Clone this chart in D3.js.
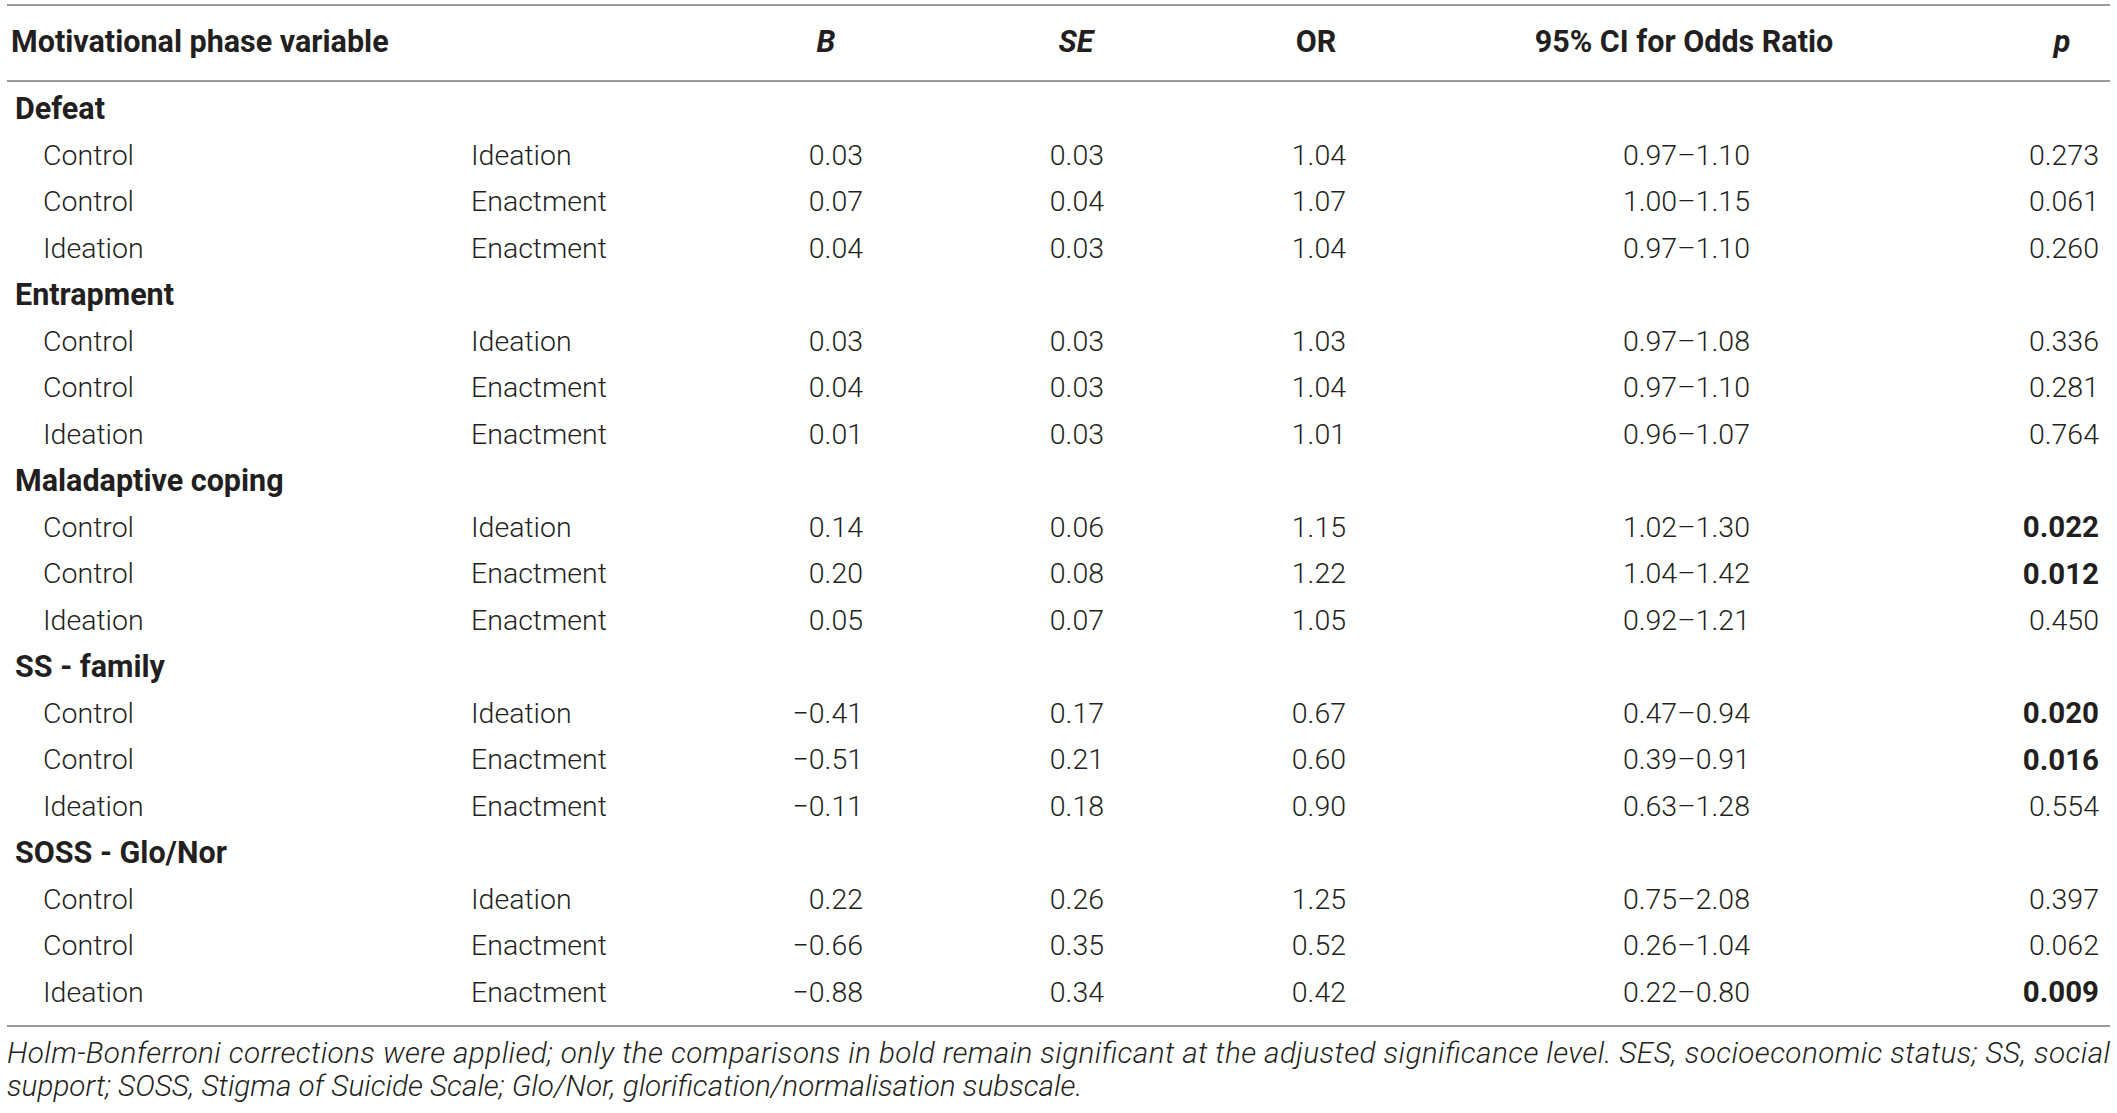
<!DOCTYPE html>
<html>
<head>
<meta charset="utf-8">
<script src="https://cdn.jsdelivr.net/npm/d3@7"></script>
<style>
  html, body { margin: 0; padding: 0; background: #fff; }
  svg { display: block; }
  text { font-family: Roboto, "Liberation Sans", sans-serif; fill: #231f20; }
</style>
</head>
<body>
<svg id="chart"></svg>
<script>
// table data
var groups = ["Defeat", "Entrapment", "Maladaptive coping", "SS - family", "SOSS - Glo/Nor"];
var fromGroup = ["Control", "Control", "Ideation"];
var toGroup = ["Ideation", "Enactment", "Enactment"];

var bValues = [
  ["0.03", "0.07", "0.04"],
  ["0.03", "0.04", "0.01"],
  ["0.14", "0.20", "0.05"],
  ["\u22120.41", "\u22120.51", "\u22120.11"],
  ["0.22", "\u22120.66", "\u22120.88"]
];
var seValues = [
  ["0.03", "0.04", "0.03"],
  ["0.03", "0.03", "0.03"],
  ["0.06", "0.08", "0.07"],
  ["0.17", "0.21", "0.18"],
  ["0.26", "0.35", "0.34"]
];
var orValues = [
  ["1.04", "1.07", "1.04"],
  ["1.03", "1.04", "1.01"],
  ["1.15", "1.22", "1.05"],
  ["0.67", "0.60", "0.90"],
  ["1.25", "0.52", "0.42"]
];
var ciValues = [
  ["0.97\u20131.10", "1.00\u20131.15", "0.97\u20131.10"],
  ["0.97\u20131.08", "0.97\u20131.10", "0.96\u20131.07"],
  ["1.02\u20131.30", "1.04\u20131.42", "0.92\u20131.21"],
  ["0.47\u20130.94", "0.39\u20130.91", "0.63\u20131.28"],
  ["0.75\u20132.08", "0.26\u20131.04", "0.22\u20130.80"]
];
var pValues = [
  ["0.273", "0.061", "0.260"],
  ["0.336", "0.281", "0.764"],
  ["0.022", "0.012", "0.450"],
  ["0.020", "0.016", "0.554"],
  ["0.397", "0.062", "0.009"]
];
var pBold = [
  [false, false, false],
  [false, false, false],
  [true, true, false],
  [true, true, false],
  [false, false, true]
];

var headers = ["Motivational phase variable", "B", "SE", "OR", "95% CI for Odds Ratio", "p"];
var footnote = [
  "Holm-Bonferroni corrections were applied; only the comparisons in bold remain significant at the adjusted significance level. SES, socioeconomic status; SS, social",
  "support; SOSS, Stigma of Suicide Scale; Glo/Nor, glorification/normalisation subscale."
];

var width = 2117, height = 1113;
var fontSize = 28.5, boldSize = 30.5;

var svg = d3.select("#chart")
    .attr("width", width)
    .attr("height", height);

// build row list
var rows = [];
groups.forEach(function(g, gi) {
  rows.push({ type: "group", label: g });
  fromGroup.forEach(function(f, i) {
    rows.push({
      type: "row", from: f, to: toGroup[i],
      b: bValues[gi][i], se: seValues[gi][i], or: orValues[gi][i],
      ci: ciValues[gi][i], p: pValues[gi][i], bold: pBold[gi][i]
    });
  });
});

var y = d3.scaleBand()
    .domain(d3.range(rows.length))
    .range([85, 1015]);

var colX = d3.scaleOrdinal()
    .domain(["group", "from", "to", "b", "se", "or", "ci", "p"])
    .range([15, 43, 471, 863, 1104, 1346, 1750, 2099]);

var headX = d3.scaleOrdinal()
    .domain(headers)
    .range([11, 826, 1076, 1316, 1684, 2062]);

// rules
var ruleY = [5, 81, 1026];
svg.selectAll("line.rule")
    .data(ruleY)
    .enter()
    .append("line")
    .attr("class", "rule")
    .attr("x1", 7)
    .attr("x2", 2110)
    .attr("y1", function(d) { return d; })
    .attr("y2", function(d) { return d; })
    .attr("stroke", "#9a9a9a")
    .attr("stroke-width", 2);

// header
svg.selectAll("text.head")
    .data(headers)
    .enter()
    .append("text")
    .attr("class", "head")
    .attr("x", function(d) { return headX(d); })
    .attr("y", 41)
    .attr("dy", "0.35em")
    .attr("text-anchor", function(d, i) { return i === 0 ? "start" : "middle"; })
    .attr("font-size", boldSize)
    .attr("font-weight", "bold")
    .attr("font-style", function(d) { return (d === "B" || d === "SE" || d === "p") ? "italic" : "normal"; })
    .text(function(d) { return d; });

// body rows
var rowG = svg.selectAll("g.row")
    .data(rows)
    .enter()
    .append("g")
    .attr("class", "row")
    .attr("transform", function(d, i) {
      return "translate(0," + (y(i) + y.bandwidth() / 2) + ")";
    });

rowG.filter(function(d) { return d.type === "group"; })
    .append("text")
    .attr("x", colX("group"))
    .attr("dy", "0.35em")
    .attr("font-size", boldSize)
    .attr("font-weight", "bold")
    .text(function(d) { return d.label; });

var cells = [
  { key: "from", anchor: "start" },
  { key: "to", anchor: "start" },
  { key: "b", anchor: "end" },
  { key: "se", anchor: "end" },
  { key: "or", anchor: "end" },
  { key: "ci", anchor: "end" },
  { key: "p", anchor: "end" }
];

rowG.filter(function(d) { return d.type === "row"; })
    .selectAll("text")
    .data(function(d) {
      return cells.map(function(c) {
        return { key: c.key, anchor: c.anchor, value: d[c.key], bold: c.key === "p" && d.bold };
      });
    })
    .enter()
    .append("text")
    .attr("x", function(d) { return colX(d.key); })
    .attr("dy", "0.35em")
    .attr("text-anchor", function(d) { return d.anchor; })
    .attr("font-size", function(d) { return d.bold ? 29.5 : fontSize; })
    .attr("font-weight", function(d) { return d.bold ? "bold" : 300; })
    .text(function(d) { return d.value; });

// footnote
svg.selectAll("text.note")
    .data(footnote)
    .enter()
    .append("text")
    .attr("class", "note")
    .attr("x", 7)
    .attr("y", function(d, i) { return 1053 + i * 32.5; })
    .attr("dy", "0.35em")
    .attr("font-size", 29.7)
    .attr("font-style", "italic")
    .attr("font-weight", 300)
    .attr("textLength", function(d, i) { return i === 0 ? 2103 : null; })
    .attr("lengthAdjust", "spacing")
    .text(function(d) { return d; });
</script>
</body>
</html>
